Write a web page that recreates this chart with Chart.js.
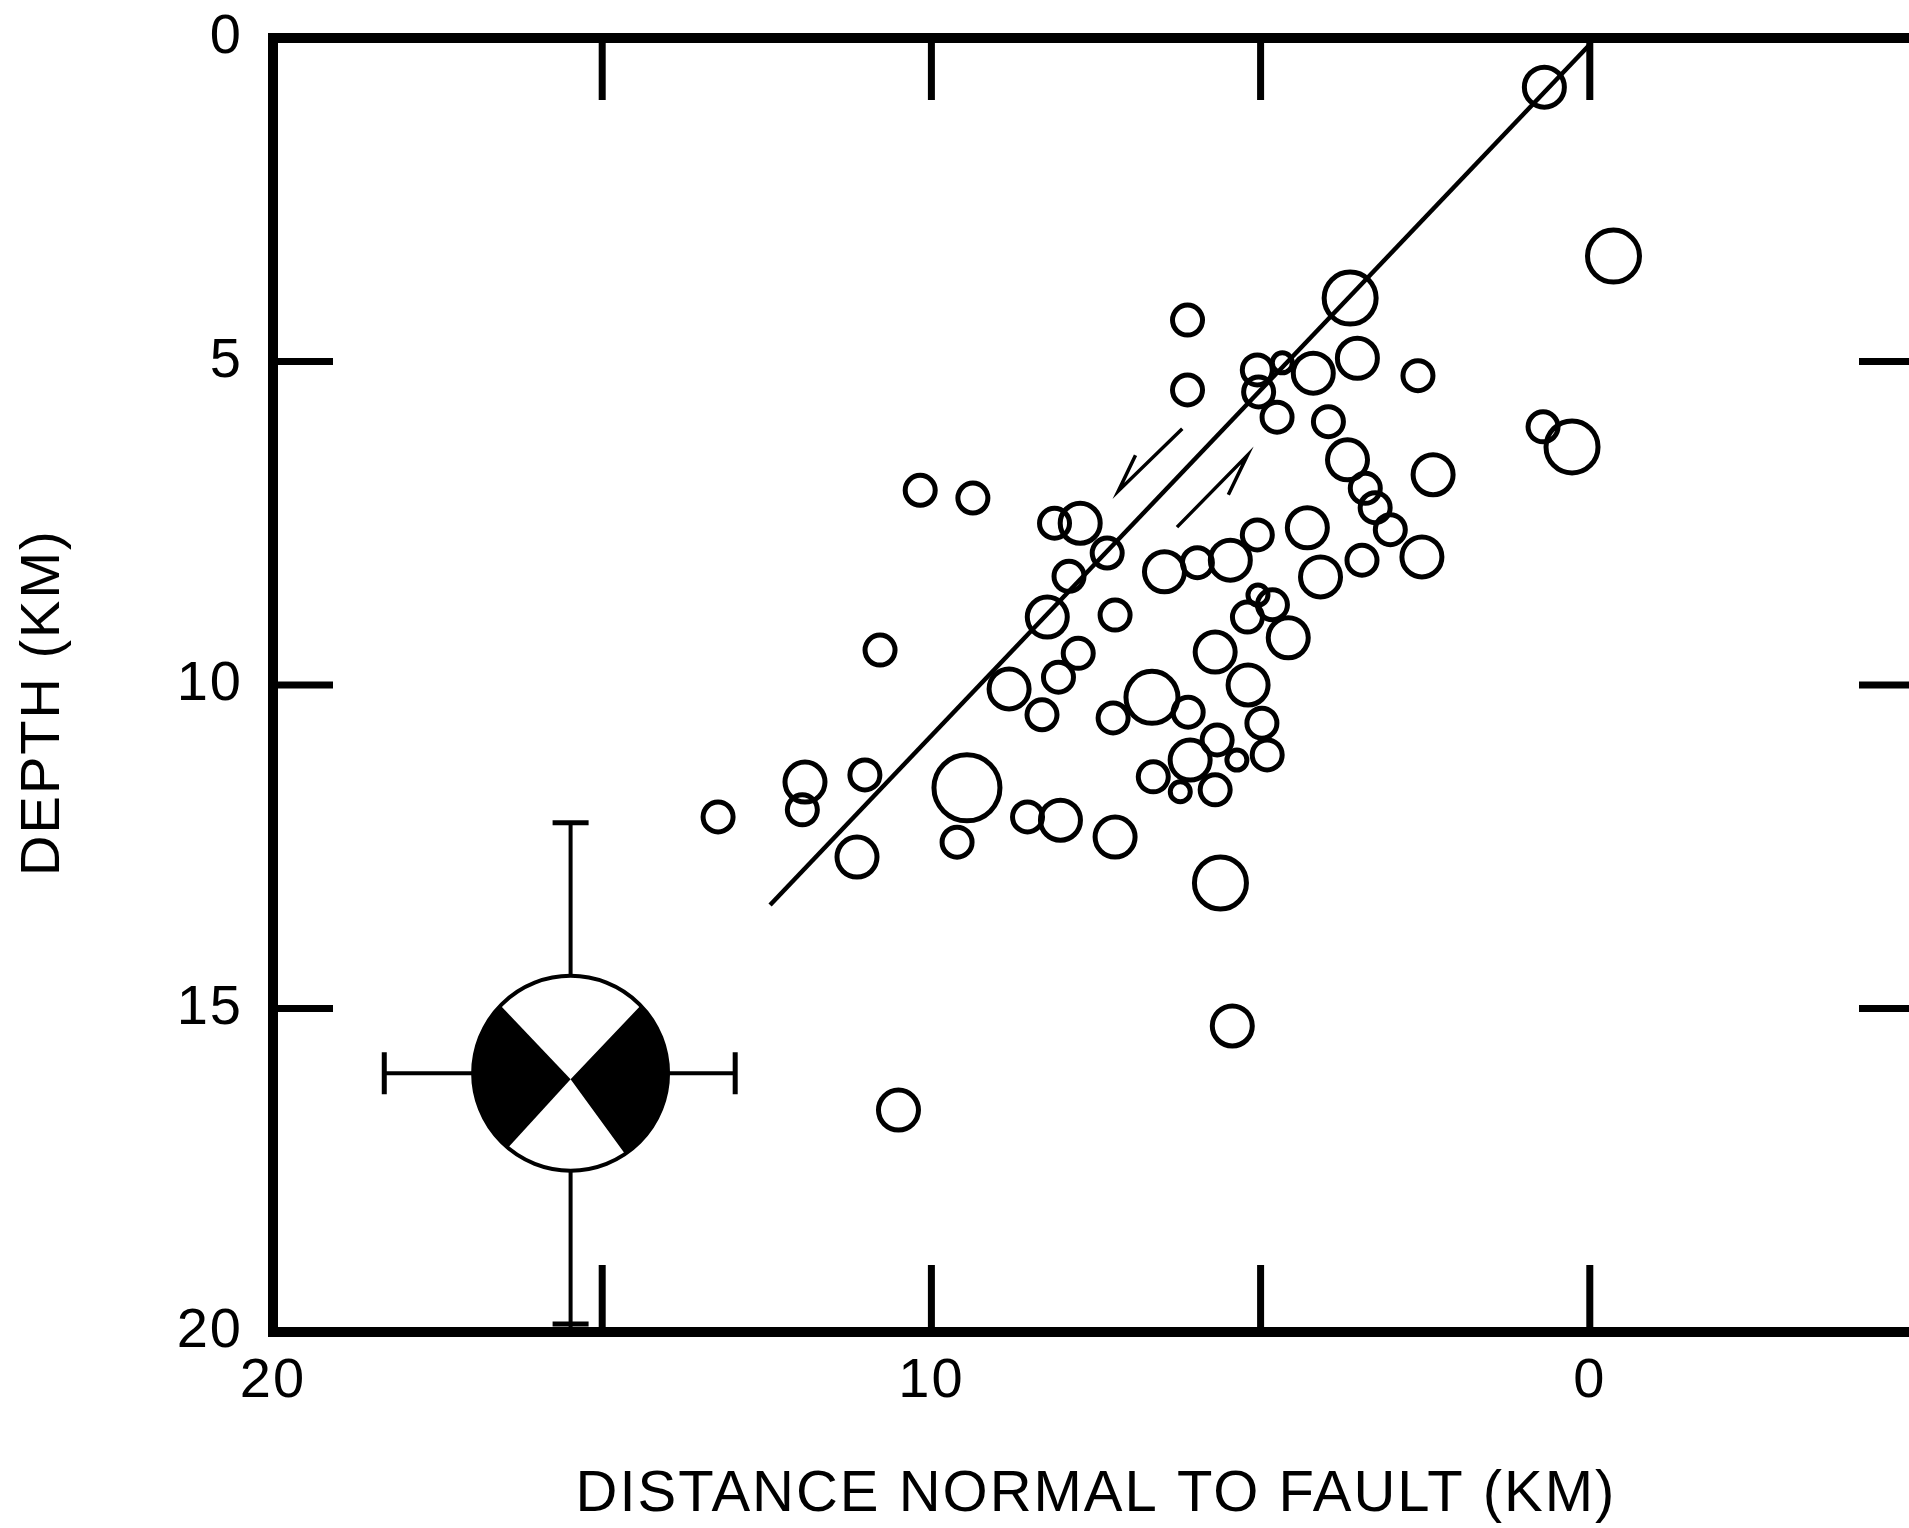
<!DOCTYPE html>
<html>
<head>
<meta charset="utf-8">
<script src="https://cdn.jsdelivr.net/npm/chart.js@4.4.0/dist/chart.umd.min.js"></script>
<style>
  html, body { margin: 0; padding: 0; background: #fff; overflow: hidden; width: 1909px; height: 1528px; }
  #wrap { position: relative; width: 1909px; height: 1528px; overflow: hidden; }
  #chart { display: block; }
</style>
</head>
<body>
<div id="wrap"><canvas id="chart" width="1940" height="1528"></canvas></div>
<script>
// Hypocentres projected on the section: distance normal to fault (km), depth (km), size class
const distKm = [
    0.69, -0.36, 0.71, 0.27, 3.64, 6.11, 6.11, 5.05, 4.67, 4.20,
    3.53, 2.61, 5.03, 4.75, 3.97, 3.68, 3.41, 3.26, 3.03, 2.55,
    2.38, 4.29, 5.05, 6.46, 5.96, 5.46, 3.46, 4.09, 7.74, 8.13,
    7.33, 7.91, 8.24, 7.21, 7.77, 8.07, 8.82, 8.32, 7.24, 6.65,
    6.10, 5.69, 5.20, 5.04, 4.82, 4.58, 5.19, 4.98, 4.90, 5.66,
    5.36, 6.07, 6.63, 6.22, 5.69, 8.54, 8.04, 7.21, 5.61, 10.17,
    9.37, 10.78, 9.46, 9.61, 11.01, 11.92, 11.96, 13.24, 11.13, 5.43,
    10.50
];
const depthKm = [
    0.76, 3.37, 6.01, 6.32, 4.02, 4.36, 5.44, 5.13, 5.02, 5.18,
    4.95, 5.22, 5.47, 5.86, 5.93, 6.52, 6.96, 7.26, 7.60, 8.02,
    6.75, 7.57, 7.68, 8.25, 8.11, 8.07, 8.07, 8.33, 7.50, 7.50,
    7.96, 8.32, 8.95, 8.92, 9.51, 9.88, 10.06, 10.46, 10.51, 10.19,
    10.42, 9.49, 8.95, 8.61, 8.76, 9.27, 10.00, 10.59, 11.08, 10.85,
    11.16, 11.16, 11.42, 11.65, 11.62, 12.04, 12.09, 12.35, 13.06, 6.99,
    7.11, 9.46, 11.59, 12.43, 11.39, 11.50, 11.93, 12.04, 12.66, 15.27,
    16.57
];
const sizeClass = [
    2, 3, 1, 3, 3, 1, 1, 1, 0, 2,
    2, 1, 1, 1, 1, 2, 1, 1, 1, 2,
    2, 2, 1, 2, 1, 2, 1, 2, 2, 1,
    1, 1, 2, 1, 1, 1, 2, 1, 1, 3,
    1, 2, 1, 0, 1, 2, 2, 1, 1, 1,
    0, 2, 1, 0, 1, 1, 2, 2, 3, 1,
    1, 1, 4, 1, 1, 2, 1, 1, 2, 2,
    2
];

const xTickLabels = ['20', '10', '0'];
const yTickLabels = ['0', '5', '10', '15', '20'];

// Fault trace
const faultX = [0.0, 12.45];
const faultY = [0.1, 13.4];

// Slip arrows: start, tip, barb end
const slipUpX = [6.19, 7.16, 6.90];
const slipUpY = [6.04, 7.00, 6.45];
const slipLowX = [6.27, 5.20, 5.49];
const slipLowY = [7.56, 6.45, 7.06];

// Focal mechanism and its location uncertainty
const mechX = [15.48];
const mechY = [16.0];
const mechErrX = [18.31, 12.98];
const mechErrY = [12.13, 20.0];

const FONT = '"Liberation Sans", Arial, Helvetica, sans-serif';
const RADII = [10, 15, 20, 26, 33];
const MECH_R = 1.48; // km

function pts(xs, ys) {
    return xs.map((v, i) => ({ x: v, y: ys[i] }));
}

// box frame with inward ticks
const framePlugin = {
    id: 'frame',
    beforeDraw(chart) { chart.ctx.letterSpacing = '2px'; },
    afterDatasetsDraw(chart) {
        const { ctx, chartArea: a, scales: { x, y } } = chart;
        ctx.save();
        ctx.strokeStyle = '#000';
        ctx.lineWidth = 10;
        ctx.strokeRect(a.left, a.top, a.right - a.left, a.bottom - a.top);
        ctx.lineWidth = 7;
        ctx.beginPath();
        x.ticks.map(t => t.value).filter(v => v > x.min && v < x.max).forEach(v => {
            const px = x.getPixelForValue(v);
            ctx.moveTo(px, a.top); ctx.lineTo(px, a.top + 62);
            ctx.moveTo(px, a.bottom); ctx.lineTo(px, a.bottom - 67);
        });
        y.ticks.map(t => t.value).filter(v => v > y.min && v < y.max).forEach(v => {
            const py = y.getPixelForValue(v);
            ctx.moveTo(a.left, py); ctx.lineTo(a.left + 60, py);
            ctx.moveTo(a.right, py); ctx.lineTo(a.right - 60, py);
        });
        ctx.stroke();
        ctx.restore();
    }
};

// beach ball with error bars
const mechPlugin = {
    id: 'mechanism',
    beforeDatasetsDraw(chart) {
        const { ctx, scales: { x, y } } = chart;
        const cx = x.getPixelForValue(mechX[0]);
        const cy = y.getPixelForValue(mechY[0]);
        const r = Math.abs(x.getPixelForValue(mechX[0] + MECH_R) - cx);
        const x0 = x.getPixelForValue(mechErrX[0]), x1 = x.getPixelForValue(mechErrX[1]);
        const y0 = y.getPixelForValue(mechErrY[0]), y1 = y.getPixelForValue(mechErrY[1]);
        ctx.save();
        ctx.strokeStyle = '#000';
        ctx.lineWidth = 4;
        ctx.beginPath();
        ctx.moveTo(x0, cy); ctx.lineTo(x1, cy);
        ctx.moveTo(cx, y0); ctx.lineTo(cx, y1);
        ctx.stroke();
        ctx.lineWidth = 5;
        ctx.beginPath();
        ctx.moveTo(x0, cy - 21); ctx.lineTo(x0, cy + 21);
        ctx.moveTo(x1, cy - 21); ctx.lineTo(x1, cy + 21);
        ctx.moveTo(cx - 18, y0); ctx.lineTo(cx + 18, y0);
        ctx.moveTo(cx - 18, y1 - 8); ctx.lineTo(cx + 18, y1 - 8);
        ctx.stroke();

        ctx.beginPath();
        ctx.arc(cx, cy, r, 0, 2 * Math.PI);
        ctx.fillStyle = '#fff';
        ctx.fill();
        ctx.fillStyle = '#000';
        [[-44, 56], [130, 224]].forEach(([a0, a1]) => {
            ctx.beginPath();
            ctx.moveTo(cx, cy + 6);
            ctx.arc(cx, cy, r, a0 * Math.PI / 180, a1 * Math.PI / 180);
            ctx.closePath();
            ctx.fill();
        });
        ctx.lineWidth = 4;
        ctx.beginPath();
        ctx.arc(cx, cy, r, 0, 2 * Math.PI);
        ctx.stroke();
        ctx.restore();
    }
};

const lineStyle = (w) => ({
    type: 'scatter', showLine: true, borderColor: '#000', borderWidth: w,
    pointRadius: 0, fill: false, clip: false
});

new Chart(document.getElementById('chart'), {
    type: 'scatter',
    data: {
        datasets: [
            { ...lineStyle(4.5), data: pts(faultX, faultY) },
            { ...lineStyle(3.5), data: pts(slipUpX, slipUpY) },
            { ...lineStyle(3.5), data: pts(slipLowX, slipLowY) },
            {
                data: pts(distKm, depthKm),
                pointRadius: c => RADII[sizeClass[c.dataIndex]],
                pointBorderWidth: 5,
                pointBorderColor: '#000',
                pointBackgroundColor: 'rgba(0,0,0,0)',
                showLine: false
            }
        ]
    },
    options: {
        responsive: false,
        animation: false,
        devicePixelRatio: 1,
        layout: { autoPadding: false, padding: { left: 0, right: 21, top: 38, bottom: 0 } },
        plugins: { legend: { display: false }, tooltip: { enabled: false } },
        scales: {
            x: {
                type: 'linear', reverse: true, min: -5, max: 20,
                grid: { display: false, drawTicks: false },
                border: { display: false },
                ticks: {
                    stepSize: 5, padding: 16, color: '#000', maxRotation: 0, autoSkip: false,
                    font: { family: FONT, size: 56 },
                    callback: v => xTickLabels.includes(String(v)) ? String(v) : ''
                },
                title: {
                    display: true, text: 'DISTANCE NORMAL TO FAULT (KM)', color: '#000',
                    font: { family: FONT, size: 58, lineHeight: 1 },
                    padding: { top: 0, bottom: 4 }
                },
                afterFit: s => { s.height = 196; s.paddingLeft = 0; s.paddingRight = 0; }
            },
            y: {
                type: 'linear', reverse: true, min: 0, max: 20,
                grid: { display: false, drawTicks: false },
                border: { display: false },
                ticks: {
                    stepSize: 5, padding: 30, color: '#000',
                    font: { family: FONT, size: 56 },
                    callback: v => yTickLabels.includes(String(v)) ? String(v) : ''
                },
                title: {
                    display: true, text: 'DEPTH (KM)  ', color: '#000',
                    font: { family: FONT, size: 56, lineHeight: 1 },
                    padding: { top: 16, bottom: 0 }
                },
                afterFit: s => { s.width = 273; s.paddingTop = 0; s.paddingBottom = 0; }
            }
        }
    },
    plugins: [mechPlugin, framePlugin]
});
</script>
</body>
</html>
